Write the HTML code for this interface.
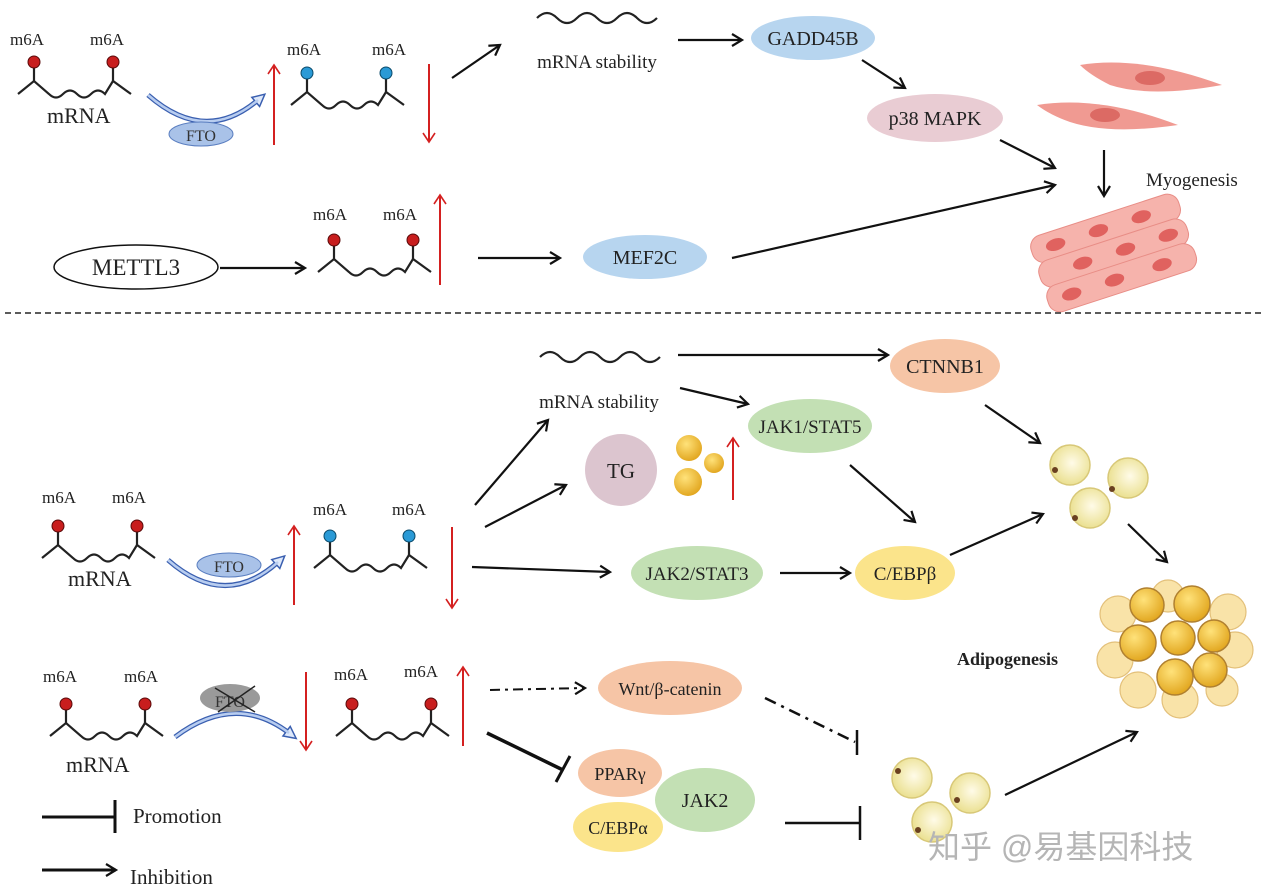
<!DOCTYPE html>
<html><head><meta charset="utf-8"><style>
html,body{margin:0;padding:0;background:#fff;}
svg{display:block;font-family:"Liberation Serif",serif;}
</style></head><body>
<svg width="1268" height="896" viewBox="0 0 1268 896" xmlns="http://www.w3.org/2000/svg">
<defs>
<marker id="ah" markerWidth="14" markerHeight="14" refX="11" refY="7" orient="auto" markerUnits="userSpaceOnUse"><path d="M1,1 L11,7 L1,13" fill="none" stroke="#111" stroke-width="2.2"/></marker>
<marker id="rh" markerWidth="14" markerHeight="14" refX="12" refY="7" orient="auto" markerUnits="userSpaceOnUse"><path d="M3,1 L12,7 L3,13" fill="none" stroke="#d42020" stroke-width="1.6"/></marker>
<marker id="bh" markerWidth="16" markerHeight="16" refX="4" refY="8" orient="auto" markerUnits="userSpaceOnUse"><path d="M1,2 L13,8 L1,14 Z" fill="#dde8fa" stroke="#3a5fb0" stroke-width="1.5"/></marker>
<g id="wave"><path d="M0,0 L16,-13 L31,0 Q38,7 45,0 Q52,-7 59,0 Q66,7 73,0 Q80,-7 87,0 L95,-13 L113,0" fill="none" stroke="#222" stroke-width="2.2"/><line x1="16" y1="-13" x2="16" y2="-28" stroke="#222" stroke-width="2.2"/><line x1="95" y1="-13" x2="95" y2="-28" stroke="#222" stroke-width="2.2"/></g>
<g id="rna-r"><use href="#wave"/><circle cx="16" cy="-32" r="6" fill="#c81e1e" stroke="#5a0a0a"/><circle cx="95" cy="-32" r="6" fill="#c81e1e" stroke="#5a0a0a"/></g>
<g id="rna-b"><use href="#wave"/><circle cx="16" cy="-32" r="6" fill="#2a9ad6" stroke="#0a4a6a"/><circle cx="95" cy="-32" r="6" fill="#2a9ad6" stroke="#0a4a6a"/></g>
<path id="sq" d="M0,0 Q10,-10 20,0 T40,0 T60,0 T80,0 T100,0 T120,0" fill="none" stroke="#222" stroke-width="2.2"/>
<radialGradient id="yc" cx="0.55" cy="0.45" r="0.6"><stop offset="0" stop-color="#fffbe8"/><stop offset="1" stop-color="#e9de8a"/></radialGradient>
<radialGradient id="yb" cx="0.4" cy="0.35" r="0.7"><stop offset="0" stop-color="#ffe27a"/><stop offset="1" stop-color="#e0a31a"/></radialGradient>
</defs>
<g font-size="17" fill="#222">
<!-- top row -->
<text x="10" y="45">m6A</text><text x="90" y="45">m6A</text>
<use href="#rna-r" x="18" y="94"/>
<text x="47" y="123" font-size="22">mRNA</text>
<path d="M148,95 Q205,145 258,100" fill="none" stroke="#3a5fb0" stroke-width="5" marker-end="url(#bh)"/>
<path d="M148,95 Q205,145 258,100" fill="none" stroke="#b8cdf0" stroke-width="2.5"/>
<ellipse cx="201" cy="134" rx="32" ry="12" fill="#a9c2e8" stroke="#5a7ec0"/>
<text x="201" y="141" font-size="16" text-anchor="middle" fill="#333">FTO</text>
<line x1="274" y1="145" x2="274" y2="65" stroke="#d42020" stroke-width="2" marker-end="url(#rh)"/>
<text x="287" y="55">m6A</text><text x="372" y="55">m6A</text>
<use href="#rna-b" x="291" y="105"/>
<line x1="429" y1="64" x2="429" y2="142" stroke="#d42020" stroke-width="2" marker-end="url(#rh)"/>
<line x1="452" y1="78" x2="500" y2="45" stroke="#111" stroke-width="2.2" marker-end="url(#ah)"/>
<use href="#sq" x="537" y="18"/>
<text x="597" y="68" font-size="19" text-anchor="middle">mRNA stability</text>
<line x1="678" y1="40" x2="742" y2="40" stroke="#111" stroke-width="2.2" marker-end="url(#ah)"/>
<ellipse cx="813" cy="38" rx="62" ry="22" fill="#b7d5ef"/><text x="813" y="45" font-size="20" text-anchor="middle">GADD45B</text>
<line x1="862" y1="60" x2="905" y2="88" stroke="#111" stroke-width="2.2" marker-end="url(#ah)"/>
<ellipse cx="935" cy="118" rx="68" ry="24" fill="#e9ccd3"/><text x="935" y="125" font-size="20" text-anchor="middle">p38 MAPK</text>
<line x1="1000" y1="140" x2="1055" y2="168" stroke="#111" stroke-width="2.2" marker-end="url(#ah)"/>
<line x1="1104" y1="150" x2="1104" y2="196" stroke="#111" stroke-width="2.2" marker-end="url(#ah)"/>
<text x="1146" y="186" font-size="19">Myogenesis</text>
<!-- muscle cells -->
<path d="M1080,65 Q1140,55 1222,85 Q1150,98 1110,85 Q1090,75 1080,65Z" fill="#f09a92"/><ellipse cx="1150" cy="78" rx="15" ry="7" fill="#dc6a64"/>
<path d="M1037,105 Q1100,95 1178,125 Q1110,135 1070,122 Q1050,115 1037,105Z" fill="#f09a92"/><ellipse cx="1105" cy="115" rx="15" ry="7" fill="#dc6a64"/>
<g transform="rotate(-18 1110 250)">
<rect x="1035" y="214" width="155" height="28" rx="12" fill="#f6b3ac" stroke="#e88d86"/>
<rect x="1035" y="240" width="155" height="28" rx="12" fill="#f6b3ac" stroke="#e88d86"/>
<rect x="1035" y="266" width="155" height="28" rx="12" fill="#f6b3ac" stroke="#e88d86"/>
<g fill="#e0625f"><ellipse cx="1060" cy="228" rx="10" ry="6"/><ellipse cx="1105" cy="228" rx="10" ry="6"/><ellipse cx="1150" cy="228" rx="10" ry="6"/><ellipse cx="1080" cy="254" rx="10" ry="6"/><ellipse cx="1125" cy="254" rx="10" ry="6"/><ellipse cx="1170" cy="254" rx="10" ry="6"/><ellipse cx="1060" cy="280" rx="10" ry="6"/><ellipse cx="1105" cy="280" rx="10" ry="6"/><ellipse cx="1155" cy="280" rx="10" ry="6"/></g>
</g>
<!-- METTL3 row -->
<ellipse cx="136" cy="267" rx="82" ry="22" fill="#fff" stroke="#111" stroke-width="1.5"/><text x="136" y="275" font-size="23" text-anchor="middle">METTL3</text>
<line x1="220" y1="268" x2="305" y2="268" stroke="#111" stroke-width="2.2" marker-end="url(#ah)"/>
<text x="313" y="220">m6A</text><text x="383" y="220">m6A</text>
<use href="#rna-r" x="318" y="272"/>
<line x1="440" y1="285" x2="440" y2="195" stroke="#d42020" stroke-width="2" marker-end="url(#rh)"/>
<line x1="478" y1="258" x2="560" y2="258" stroke="#111" stroke-width="2.2" marker-end="url(#ah)"/>
<ellipse cx="645" cy="257" rx="62" ry="22" fill="#b7d5ef"/><text x="645" y="264" font-size="20" text-anchor="middle">MEF2C</text>
<line x1="732" y1="258" x2="1055" y2="185" stroke="#111" stroke-width="2.2" marker-end="url(#ah)"/>
<line x1="5" y1="313" x2="1262" y2="313" stroke="#444" stroke-width="1.8" stroke-dasharray="6,4"/>
<!-- bottom section -->
<use href="#sq" x="540" y="357"/>
<text x="599" y="408" font-size="19" text-anchor="middle">mRNA stability</text>
<line x1="678" y1="355" x2="888" y2="355" stroke="#111" stroke-width="2.2" marker-end="url(#ah)"/>
<ellipse cx="945" cy="366" rx="55" ry="27" fill="#f6c5a6"/><text x="945" y="373" font-size="20" text-anchor="middle">CTNNB1</text>
<line x1="680" y1="388" x2="748" y2="404" stroke="#111" stroke-width="2.2" marker-end="url(#ah)"/>
<ellipse cx="810" cy="426" rx="62" ry="27" fill="#c3e0b4"/><text x="810" y="433" font-size="19" text-anchor="middle">JAK1/STAT5</text>
<circle cx="621" cy="470" r="36" fill="#dcc5cf"/><text x="621" y="478" font-size="21" text-anchor="middle">TG</text>
<circle cx="689" cy="448" r="13" fill="url(#yb)"/><circle cx="714" cy="463" r="10" fill="url(#yb)"/><circle cx="688" cy="482" r="14" fill="url(#yb)"/>
<line x1="733" y1="500" x2="733" y2="438" stroke="#d42020" stroke-width="2" marker-end="url(#rh)"/>
<line x1="475" y1="505" x2="548" y2="420" stroke="#111" stroke-width="2.2" marker-end="url(#ah)"/>
<line x1="485" y1="527" x2="566" y2="485" stroke="#111" stroke-width="2.2" marker-end="url(#ah)"/>
<line x1="850" y1="465" x2="915" y2="522" stroke="#111" stroke-width="2.2" marker-end="url(#ah)"/>
<line x1="985" y1="405" x2="1040" y2="443" stroke="#111" stroke-width="2.2" marker-end="url(#ah)"/>
<line x1="950" y1="555" x2="1043" y2="514" stroke="#111" stroke-width="2.2" marker-end="url(#ah)"/>
<line x1="1128" y1="524" x2="1167" y2="562" stroke="#111" stroke-width="2.2" marker-end="url(#ah)"/>
<g stroke="#d8c878" stroke-width="1.5"><circle cx="1070" cy="465" r="20" fill="url(#yc)"/><circle cx="1128" cy="478" r="20" fill="url(#yc)"/><circle cx="1090" cy="508" r="20" fill="url(#yc)"/></g>
<g fill="#6a4020"><circle cx="1055" cy="470" r="3"/><circle cx="1112" cy="489" r="3"/><circle cx="1075" cy="518" r="3"/></g>
<!-- cluster -->
<g stroke="#e3c07a" stroke-width="1.2" fill="#f9e3a8">
<circle cx="1118" cy="614" r="18"/><circle cx="1228" cy="612" r="18"/><circle cx="1115" cy="660" r="18"/><circle cx="1235" cy="650" r="18"/><circle cx="1138" cy="690" r="18"/><circle cx="1180" cy="700" r="18"/><circle cx="1222" cy="690" r="16"/><circle cx="1168" cy="596" r="16"/></g>
<g stroke="#b08030" stroke-width="1.5" fill="url(#yb)">
<circle cx="1147" cy="605" r="17"/><circle cx="1192" cy="604" r="18"/><circle cx="1138" cy="643" r="18"/><circle cx="1178" cy="638" r="17"/><circle cx="1214" cy="636" r="16"/><circle cx="1175" cy="677" r="18"/><circle cx="1210" cy="670" r="17"/></g>
<text x="957" y="665" font-size="18" font-weight="bold">Adipogenesis</text>
<!-- FTO row 2 -->
<text x="42" y="503">m6A</text><text x="112" y="503">m6A</text>
<use href="#rna-r" x="42" y="558"/>
<text x="68" y="586" font-size="22">mRNA</text>
<path d="M168,560 Q225,610 278,562" fill="none" stroke="#3a5fb0" stroke-width="5" marker-end="url(#bh)"/>
<path d="M168,560 Q225,610 278,562" fill="none" stroke="#b8cdf0" stroke-width="2.5"/>
<ellipse cx="229" cy="565" rx="32" ry="12" fill="#a9c2e8" stroke="#5a7ec0"/>
<text x="229" y="572" font-size="16" text-anchor="middle" fill="#333">FTO</text>
<line x1="294" y1="605" x2="294" y2="526" stroke="#d42020" stroke-width="2" marker-end="url(#rh)"/>
<text x="313" y="515">m6A</text><text x="392" y="515">m6A</text>
<use href="#rna-b" x="314" y="568"/>
<line x1="452" y1="527" x2="452" y2="608" stroke="#d42020" stroke-width="2" marker-end="url(#rh)"/>
<line x1="472" y1="567" x2="610" y2="572" stroke="#111" stroke-width="2.2" marker-end="url(#ah)"/>
<ellipse cx="697" cy="573" rx="66" ry="27" fill="#c3e0b4"/><text x="697" y="580" font-size="19" text-anchor="middle">JAK2/STAT3</text>
<line x1="780" y1="573" x2="850" y2="573" stroke="#111" stroke-width="2.2" marker-end="url(#ah)"/>
<ellipse cx="905" cy="573" rx="50" ry="27" fill="#fbe48b"/><text x="905" y="580" font-size="19" text-anchor="middle">C/EBPβ</text>
<!-- FTO knockdown row -->
<text x="43" y="682">m6A</text><text x="124" y="682">m6A</text>
<use href="#rna-r" x="50" y="736"/>
<text x="66" y="772" font-size="22">mRNA</text>
<path d="M175,737 Q235,692 289,733" fill="none" stroke="#3a5fb0" stroke-width="5" marker-end="url(#bh)"/>
<path d="M175,737 Q235,692 289,733" fill="none" stroke="#b8cdf0" stroke-width="2.5"/>
<ellipse cx="230" cy="698" rx="30" ry="14" fill="#9a9a9a"/>
<text x="230" y="707" font-size="16" text-anchor="middle" fill="#333">FTO</text>
<line x1="215" y1="688" x2="255" y2="712" stroke="#222" stroke-width="1.5"/><line x1="255" y1="686" x2="218" y2="712" stroke="#222" stroke-width="1.5"/>
<line x1="306" y1="672" x2="306" y2="750" stroke="#d42020" stroke-width="2" marker-end="url(#rh)"/>
<text x="334" y="680">m6A</text><text x="404" y="677">m6A</text>
<use href="#rna-r" x="336" y="736"/>
<line x1="463" y1="746" x2="463" y2="667" stroke="#d42020" stroke-width="2" marker-end="url(#rh)"/>
<line x1="490" y1="690" x2="585" y2="688" stroke="#111" stroke-width="2" stroke-dasharray="10,5,3,5" marker-end="url(#ah)"/>
<ellipse cx="670" cy="688" rx="72" ry="27" fill="#f6c5a6"/><text x="670" y="695" font-size="18" text-anchor="middle">Wnt/β-catenin</text>
<line x1="765" y1="698" x2="855" y2="742" stroke="#111" stroke-width="2.5" stroke-dasharray="12,6,3,6"/>
<line x1="857" y1="730" x2="857" y2="755" stroke="#111" stroke-width="2.5"/>
<line x1="487" y1="733" x2="563" y2="770" stroke="#111" stroke-width="3.5"/><line x1="556" y1="782" x2="570" y2="756" stroke="#111" stroke-width="3"/>
<ellipse cx="618" cy="827" rx="45" ry="25" fill="#fbe48b"/><text x="618" y="834" font-size="18" text-anchor="middle">C/EBPα</text>
<ellipse cx="705" cy="800" rx="50" ry="32" fill="#c3e0b4"/><text x="705" y="807" font-size="20" text-anchor="middle">JAK2</text>
<ellipse cx="620" cy="773" rx="42" ry="24" fill="#f6c5a6"/><text x="620" y="780" font-size="18" text-anchor="middle">PPARγ</text>
<line x1="785" y1="823" x2="860" y2="823" stroke="#111" stroke-width="2.5"/><line x1="860" y1="806" x2="860" y2="840" stroke="#111" stroke-width="2.5"/>
<g stroke="#d8c878" stroke-width="1.5"><circle cx="912" cy="778" r="20" fill="url(#yc)"/><circle cx="970" cy="793" r="20" fill="url(#yc)"/><circle cx="932" cy="822" r="20" fill="url(#yc)"/></g>
<g fill="#6a4020"><circle cx="898" cy="771" r="3"/><circle cx="957" cy="800" r="3"/><circle cx="918" cy="830" r="3"/></g>
<line x1="1005" y1="795" x2="1137" y2="732" stroke="#111" stroke-width="2.2" marker-end="url(#ah)"/>
<!-- legend -->
<line x1="42" y1="817" x2="115" y2="817" stroke="#111" stroke-width="3"/><line x1="115" y1="800" x2="115" y2="833" stroke="#111" stroke-width="3"/>
<text x="133" y="823" font-size="21">Promotion</text>
<line x1="42" y1="870" x2="116" y2="870" stroke="#111" stroke-width="3" marker-end="url(#ah)"/>
<text x="130" y="884" font-size="21">Inhibition</text>
<text x="928" y="858" font-size="32" fill="#b5b5b5" font-family="'Liberation Sans','Noto Sans CJK SC',sans-serif">知乎 @易基因科技</text>
</g>
</svg>
</body></html>
